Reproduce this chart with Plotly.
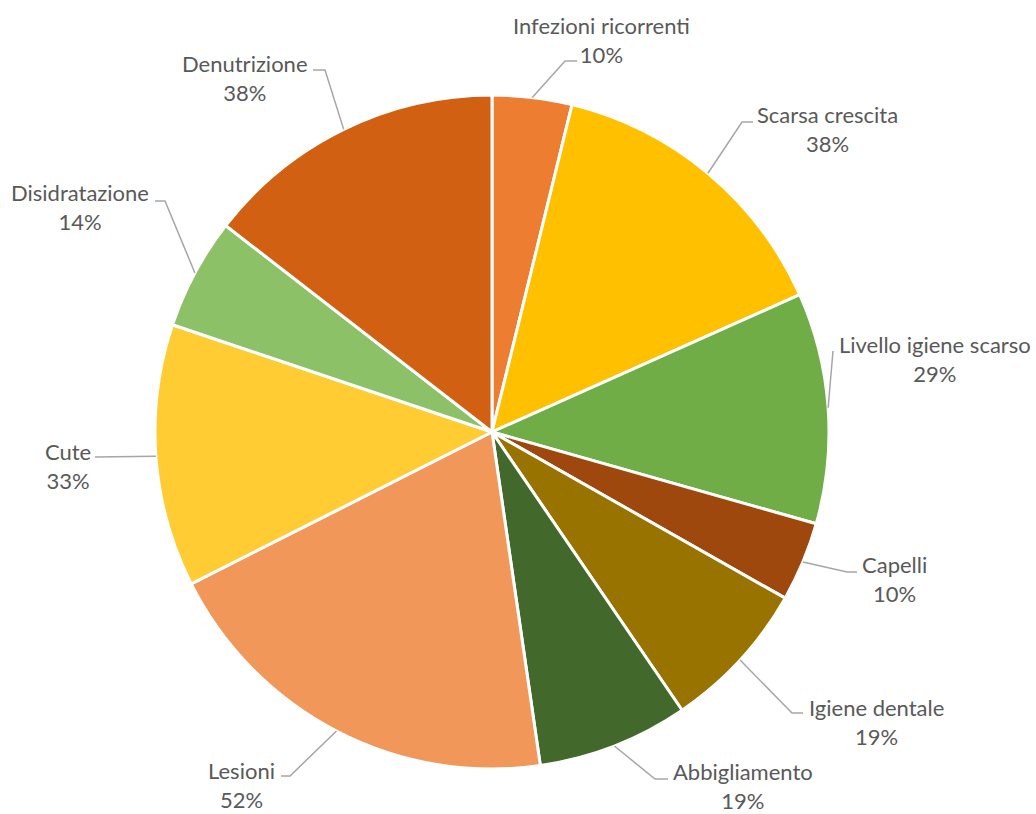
import math
import plotly.graph_objects as go

# Data
categories = ["Infezioni ricorrenti", "Scarsa crescita", "Livello igiene scarso", "Capelli",
              "Igiene dentale", "Abbigliamento", "Lesioni", "Cute", "Disidratazione", "Denutrizione"]
values = [10, 38, 29, 10, 19, 19, 52, 33, 14, 38]
colors = ["#ED7D31", "#FFC000", "#70AD47", "#9E480E", "#997300",
          "#43682B", "#F1975A", "#FFCD33", "#8CC168", "#D26012"]

# Canvas and pie geometry (pixels)
W, H = 1036, 814
CX, CY, R = 492, 432, 337

# Label layout: text block centre and leader-line bend/end points (pixels)
label_centre = [(601, 40), (827, 129), (935, 359), (894, 579), (876, 722),
                (743, 786), (241, 785), (68, 466), (80, 207), (245, 78)]
leader_bend = [(565, 61), (742, 122), (833, 351), (847, 572), (792, 713),
               (655, 779), (290, 776), (95, 457), (165, 201), (325, 70)]
leader_end = [(577, 61), (753, 122), (833, 351), (857, 572), (803, 713),
              (668, 779), (281, 776), (95, 457), (155, 201), (313, 70)]

TEXT_COLOR = "#595959"
LINE_COLOR = "#A6A6A6"
FONT = "Lato"


def px(x):
    return x / W


def py(y):
    return 1 - y / H


fig = go.Figure(go.Pie(
    labels=categories,
    values=values,
    marker=dict(colors=colors, line=dict(color="white", width=3)),
    sort=False,
    direction="clockwise",
    rotation=0,
    textinfo="none",
    hoverinfo="label+value",
    showlegend=False,
    domain=dict(x=[px(CX - R), px(CX + R)], y=[py(CY + R), py(CY - R)]),
))

total = sum(values)
shapes = []
annotations = []
cum = 0
for i, (name, v) in enumerate(zip(categories, values)):
    mid = (cum + v / 2) / total * 2 * math.pi
    cum += v
    sx = CX + R * math.sin(mid)
    sy = CY - R * math.cos(mid)
    bx, by = leader_bend[i]
    ex, ey = leader_end[i]
    path = f"M {px(sx)} {py(sy)} L {px(bx)} {py(by)} L {px(ex)} {py(ey)}"
    shapes.append(dict(type="path", xref="paper", yref="paper", path=path,
                       line=dict(color=LINE_COLOR, width=1.5)))
    lx, ly = label_centre[i]
    annotations.append(dict(
        x=px(lx), y=py(ly), xref="paper", yref="paper",
        text=f"{name}<br>{v}%", showarrow=False, align="center",
        xanchor="center", yanchor="middle", borderpad=0,
        font=dict(family=FONT, size=22, color=TEXT_COLOR),
    ))

fig.update_layout(
    width=W, height=H,
    margin=dict(l=0, r=0, t=0, b=0),
    paper_bgcolor="white",
    plot_bgcolor="white",
    shapes=shapes,
    annotations=annotations,
)

fig.write_html("out.html")
